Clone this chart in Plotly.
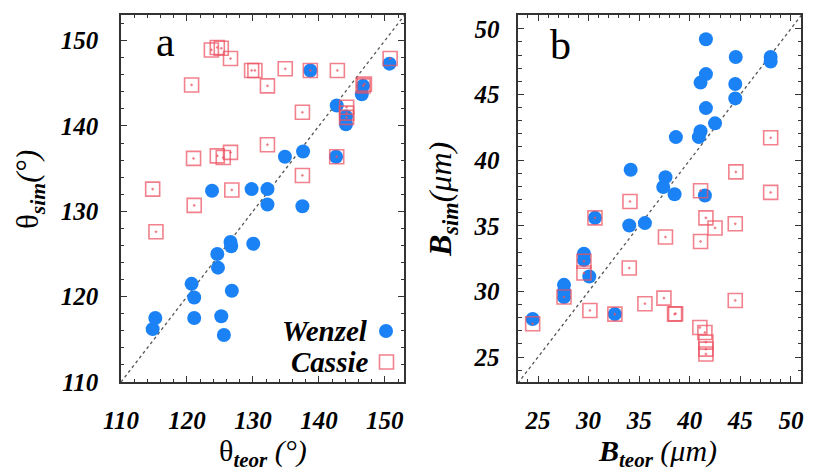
import plotly.graph_objects as go

# ---------------- data: panel a (contact angle, degrees) ----------------
wenzel_theta_teor = [138.7, 150.7, 146.7, 146.5, 142.7, 144.1, 144.1, 142.6, 137.6, 134.85,
                     132.2, 129.8, 123.8, 132.2, 137.5, 126.6, 126.7, 130.05, 124.6, 124.7,
                     120.7, 121.1, 126.8, 115.2, 114.8, 121.1, 125.2, 125.6]
wenzel_theta_sim = [146.5, 147.3, 144.7, 143.7, 142.4, 141.1, 140.2, 136.4, 137.0, 136.4,
                    132.6, 132.6, 132.4, 130.8, 130.6, 126.4, 125.9, 126.2, 125.0, 123.4,
                    121.5, 119.9, 120.7, 117.5, 116.2, 117.5, 117.7, 115.5]

cassie_theta_teor = [123.7, 124.6, 125.2, 126.6, 120.7, 129.8, 130.3, 132.2, 134.9, 138.7,
                     142.8, 150.8, 146.7, 146.9, 144.2, 144.2, 144.2, 137.5, 142.7, 132.2,
                     126.6, 124.6, 125.5, 121.0, 137.5, 114.8, 126.8, 121.1, 115.3]
cassie_theta_sim = [148.9, 149.2, 149.1, 147.9, 144.8, 146.5, 146.5, 144.7, 146.7, 146.5,
                    146.5, 147.9, 144.7, 144.9, 142.2, 141.5, 141.0, 141.6, 136.4, 137.8,
                    136.9, 136.5, 136.3, 136.2, 134.2, 132.6, 132.5, 130.7, 127.6]

# ---------------- data: panel b (B, micrometres) ----------------
wenzel_b_teor = [41.6, 44.55, 48.0, 48.0, 41.6, 41.07, 44.5, 44.5, 41.6, 42.5,
                 41.07, 40.9, 38.63, 34.16, 37.6, 37.38, 38.5, 41.5, 30.63, 34.02,
                 35.57, 29.54, 29.54, 30.07, 27.57, 27.57, 27.57, 32.6, 24.47]
wenzel_b_sim = [49.2, 47.85, 47.85, 47.5, 46.55, 45.9, 45.8, 44.7, 43.96, 42.8,
                42.2, 41.75, 41.75, 39.27, 38.7, 37.95, 37.4, 37.3, 35.6, 35.02,
                35.2, 32.87, 32.4, 31.14, 30.5, 30.0, 29.57, 28.27, 27.9]

cassie_b_teor = [48.0, 44.56, 48.0, 41.07, 34.09, 30.63, 41.6, 42.5, 44.5, 37.6,
                 41.07, 34.02, 29.54, 29.54, 27.57, 30.13, 32.6, 35.57, 37.45, 38.5,
                 38.6, 44.5, 24.47, 41.0, 41.5, 41.6, 41.6, 41.6]
cassie_b_sim = [41.7, 39.1, 37.54, 37.67, 36.85, 35.6, 35.6, 34.83, 35.15, 34.14,
                33.8, 31.78, 32.3, 31.4, 29.57, 28.55, 28.27, 29.06, 29.49, 28.27,
                28.3, 29.31, 27.54, 27.25, 26.87, 26.14, 25.6, 25.23]

# axis ranges and ticks
range_a_x = [110, 152.9]
range_a_y = [110, 153.0]
range_b_x = [23.05, 51.0]
range_b_y = [23.1, 51.05]
ticks_a = [110, 120, 130, 140, 150]
ticks_b = [25, 30, 35, 40, 45, 50]
diag_a = [110, 153]
diag_b = [23, 51.1]

BLUE = "#1b82f5"
RED = "rgba(236,80,95,0.72)"
SERIF = "Liberation Serif"
W, H = 814, 474

fig = go.Figure()

def add_panel(xt, ys, xc, yc, diag, xa, ya):
    fig.add_trace(go.Scatter(x=diag, y=diag, mode="lines", xaxis=xa, yaxis=ya,
                             line=dict(color="#555555", width=1.3, dash="dot"),
                             hoverinfo="skip", showlegend=False))
    fig.add_trace(go.Scatter(x=xt, y=ys, mode="markers", xaxis=xa, yaxis=ya, name="Wenzel",
                             marker=dict(symbol="circle", size=14, color=BLUE,
                                         line=dict(width=0)), showlegend=False))
    fig.add_trace(go.Scatter(x=xc, y=yc, mode="markers", xaxis=xa, yaxis=ya, name="Cassie",
                             marker=dict(symbol="square-open-dot", size=14,
                                         color=RED, line=dict(width=1.6, color=RED)),
                             showlegend=False))

add_panel(wenzel_theta_teor, wenzel_theta_sim, cassie_theta_teor, cassie_theta_sim, diag_a, "x", "y")
add_panel(wenzel_b_teor, wenzel_b_sim, cassie_b_teor, cassie_b_sim, diag_b, "x2", "y2")

tickfont = dict(family=SERIF, size=25, color="black", weight="bold", style="italic")

def axis(rng, domain, tickvals, minor_dtick, anchor, standoff):
    return dict(range=rng, domain=domain, anchor=anchor, tickvals=tickvals,
                ticks="inside", ticklen=6, tickwidth=1.3, tickcolor="#333",
                minor=dict(ticks="inside", ticklen=3.5, tickwidth=1, tickcolor="#333",
                           dtick=minor_dtick, tick0=0, showgrid=False),
                showline=True, linecolor="#333", linewidth=1.5, mirror="allticks",
                showgrid=False, zeroline=False, tickfont=tickfont,
                ticklabelstandoff=standoff, automargin=False, fixedrange=True)

xdom_a = [121 / W, 404 / W]
xdom_b = [518.3 / W, 801 / W]
ydom = [(H - 382) / H, (H - 15) / H]

fig.update_layout(
    width=W, height=H, margin=dict(l=0, r=0, t=0, b=0),
    paper_bgcolor="white", plot_bgcolor="white", showlegend=False,
    xaxis=axis(range_a_x, xdom_a, ticks_a, 2, "y", 15),
    yaxis=axis(range_a_y, ydom, ticks_a, 2, "x", 16),
    xaxis2=axis(range_b_x, xdom_b, ticks_b, 1, "y2", 15),
    yaxis2=axis(range_b_y, ydom, ticks_b, 1, "x2", 12),
)

def px(x):
    return x / W

def py(y):
    return 1 - y / H

ann = []
# panel letters
ann.append(dict(text="a", x=px(165), y=py(42), xref="paper", yref="paper", showarrow=False,
                font=dict(family=SERIF, size=42, color="black"), xanchor="center", yanchor="middle"))
ann.append(dict(text="b", x=px(560), y=py(45), xref="paper", yref="paper", showarrow=False,
                font=dict(family=SERIF, size=42, color="black"), xanchor="center", yanchor="middle"))
# legend text
legfont = dict(family=SERIF, size=29, color="black", weight="bold", style="italic")
ann.append(dict(text="Wenzel", x=px(370), y=py(331), xref="paper", yref="paper", showarrow=False,
                font=legfont, xanchor="right", yanchor="middle"))
ann.append(dict(text="Cassie", x=px(370), y=py(362), xref="paper", yref="paper", showarrow=False,
                font=legfont, xanchor="right", yanchor="middle"))
# axis titles
tfont = dict(family=SERIF, size=30, color="black")
ann.append(dict(text="θ<sub><i><b>teor</b></i></sub><i> (°)</i>", x=px(262.5), y=py(453),
                xref="paper", yref="paper", showarrow=False, font=tfont,
                xanchor="center", yanchor="middle"))
ann.append(dict(text="<b><i>B</i></b><sub><i><b>teor</b></i></sub><i> (μm)</i>", x=px(657), y=py(453),
                xref="paper", yref="paper", showarrow=False, font=tfont,
                xanchor="center", yanchor="middle"))
ann.append(dict(text="θ<sub><i><b>sim</b></i></sub><i>(°)</i>", x=px(30), y=py(190),
                xref="paper", yref="paper", showarrow=False, font=dict(family=SERIF, size=31, color="black"),
                textangle=-90, xanchor="center", yanchor="middle"))
ann.append(dict(text="<b><i>B</i></b><sub><i><b>sim</b></i></sub><i>(μm)</i>", x=px(443), y=py(200),
                xref="paper", yref="paper", showarrow=False, font=dict(family=SERIF, size=32, color="black"),
                textangle=-90, xanchor="center", yanchor="middle"))
fig.update_layout(annotations=ann)

# legend keys
fig.add_shape(type="circle", xref="paper", yref="paper",
              x0=px(379), x1=px(393), y0=py(338), y1=py(324),
              fillcolor=BLUE, line=dict(width=0))
fig.add_shape(type="rect", xref="paper", yref="paper",
              x0=px(379.5), x1=px(393.5), y0=py(369), y1=py(355),
              fillcolor="rgba(0,0,0,0)", line=dict(width=1.6, color=RED))

fig.write_html("out.html", config={"displayModeBar": False},
               post_script="document.body.style.margin='0';document.body.style.overflow='hidden';")
